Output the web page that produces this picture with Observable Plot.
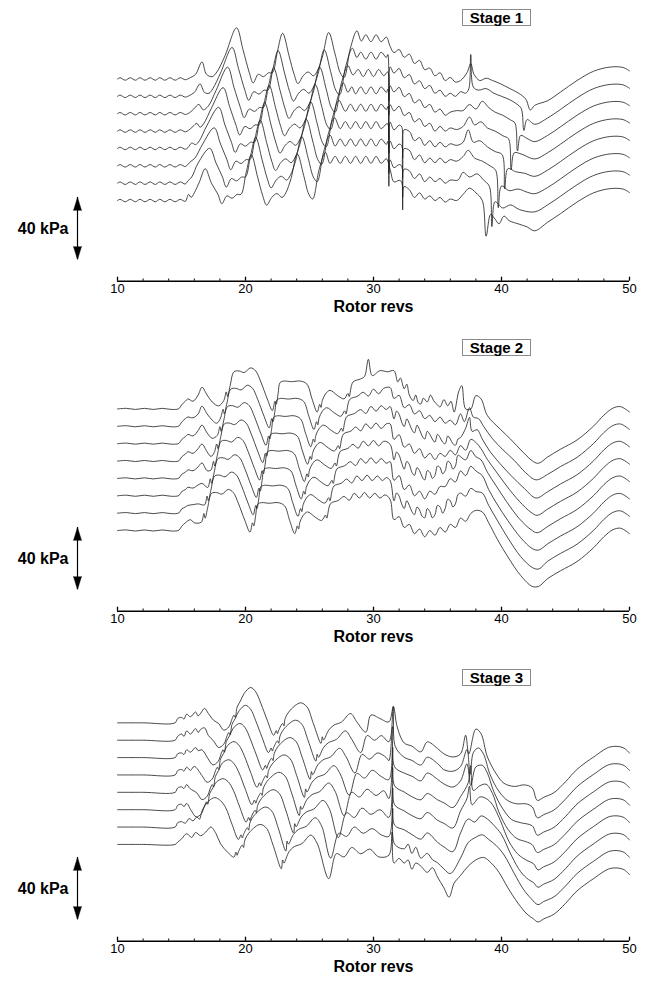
<!DOCTYPE html>
<html><head><meta charset="utf-8">
<script src="https://cdn.jsdelivr.net/npm/d3@7"></script>
<script src="https://cdn.jsdelivr.net/npm/@observablehq/plot@0.6"></script>
<style>
html,body{margin:0;padding:0;background:#fff;overflow:hidden;}
.panel{position:relative;width:652px;}
.stage{position:absolute;left:462px;top:9px;width:67px;height:15px;border:1px solid #8a8a8a;background:#fff;
 font:bold 15px "Liberation Sans",Arial,Helvetica,sans-serif;line-height:15px;text-align:center;color:#000;}
</style></head><body><div id="root"></div><script>
// ---- axis / labels ----
const revTicks = [10, 20, 30, 40, 50];
const minorTicks = [12,14,16,18,22,24,26,28,32,34,36,38,42,44,46,48];
const stageNames = ["Stage 1", "Stage 2", "Stage 3"];
const xLabel = "Rotor revs";
const scaleBarKpa = 40;
const sensorSpacingKpa = 11.2;        // vertical offset between the 8 sensor traces
const panelBaseKpa = [0, 0, 10.4];    // baseline of the lowest trace in each panel

// ---- Stage 1 (pressure deviation in kPa vs rotor revs) ----
const s1Start = [[10,0],[10.2,0.8],[10.6,-0.8],[11,0.8],[11.4,-0.8],[11.75,0.8],[12.15,-0.8],[12.55,0.8],[12.95,-0.8],[13.3,0.8],[13.7,-0.8],[14.1,0.8],[14.5,-0.8],[14.9,0.8],[15.3,-0.5]];
const s1End = [[43.6,-14],[44.6,-8.5],[45.9,-1],[47.2,5],[48.5,7.7],[49.5,7.4],[50,5.2]];
const s1t0 = [[15.6,0.5],[16.1,3],[16.6,11],[16.95,3],[17.4,1.5],[17.8,5],[18.4,15],[19.3,33],[19.8,19],[20.3,4],[20.6,-2.5],[21.0,3],[21.4,1.5],[21.8,4],[22.1,4],[22.5,18],[22.9,29.5],[23.4,15],[23.8,3],[24.1,-3],[24.5,2],[24.9,4.5],[25.3,2],[25.6,5],[26.0,14],[26.5,30],[27.0,16],[27.4,4],[27.7,1],[28.2,20],[28.7,31],[29.05,24.5],[29.4,28.5],[29.8,24],[30.2,28.5],[30.6,24],[31.0,27],[31.3,21],[31.6,17],[32.0,19],[32.4,14],[32.8,16],[33.2,10],[33.6,12],[34.0,6],[34.4,7],[34.8,2],[35.2,4],[35.6,-1],[36.0,1],[36.4,-2],[36.8,-1],[37.3,4],[37.6,10],[37.85,3],[38.3,-1],[38.8,0.5],[39.3,-1],[39.9,-3],[40.6,-6],[41.3,-9],[41.9,-13],[42.25,-20],[42.6,-17]];
const s1t1 = [[15.6,0.5],[16.0,2.5],[16.45,8],[16.8,2.5],[17.15,2],[17.45,5],[18.05,15],[18.95,31.5],[19.45,18],[19.95,4],[20.25,-2.5],[20.65,3],[21.05,1.5],[21.45,4],[21.75,4],[22.15,18],[22.55,29.5],[23.05,15],[23.45,3],[23.75,-3],[24.15,2],[24.55,4.5],[24.95,2],[25.25,5],[25.65,14],[26.15,30],[26.65,16],[27.05,4],[27.35,1],[27.85,20],[28.35,31],[28.7,25],[29.0,28.5],[29.4,24],[29.8,28.5],[30.2,24],[30.6,28.5],[31.0,25],[31.12,27],[31.2,-3],[31.3,19],[31.6,15],[32.0,18],[32.4,12],[32.8,14],[33.2,8],[33.6,10],[34.0,5],[34.4,7],[34.8,2],[35.2,4],[35.6,0],[36.0,2],[36.4,0],[36.8,3],[37.2,2],[37.45,5],[37.6,27],[37.8,6],[38.2,4],[38.8,5],[39.4,2],[40.0,0],[40.6,-2],[41.2,-5],[41.55,-8],[41.75,-22],[42.0,-15],[42.6,-18]];
const s1t2 = [[15.6,0.5],[15.95,3],[16.35,6],[16.7,2.5],[17.1,5],[17.7,15],[18.6,30],[19.1,17],[19.6,4],[19.9,-2.5],[20.3,3],[20.7,1.5],[21.1,4],[21.4,4],[21.8,18],[22.2,29.5],[22.7,15],[23.1,3],[23.4,-3],[23.8,2],[24.2,4.5],[24.6,2],[24.9,5],[25.3,14],[25.8,30],[26.3,16],[26.7,4],[27.0,1],[27.5,20],[28.0,31],[28.4,25],[28.8,28.5],[29.2,24],[29.6,28.5],[30.0,24],[30.4,28.5],[30.8,24.5],[31.12,27],[31.2,-1],[31.3,18],[31.6,14],[32.0,17],[32.4,11],[32.8,13],[33.2,7],[33.6,9],[34.0,4],[34.4,6],[34.8,1],[35.2,3],[35.6,-1],[36.0,1],[36.5,2],[37.0,2],[37.5,6],[38.0,3],[38.5,8],[39.0,4],[39.5,1],[40.1,-1],[40.7,-4],[41.05,-6],[41.25,-24],[41.5,-14],[42.0,-16],[42.6,-18]];
const s1t3 = [[15.55,0.5],[15.9,3],[16.2,5],[16.45,2.5],[16.75,5],[17.35,15],[18.25,28],[18.75,16],[19.25,4],[19.55,-2.5],[19.95,3],[20.35,1.5],[20.75,4],[21.05,4],[21.45,18],[21.85,29.5],[22.35,15],[22.75,3],[23.05,-3],[23.45,2],[23.85,4.5],[24.25,2],[24.55,5],[24.95,14],[25.45,30],[25.95,16],[26.35,4],[26.65,1],[27.15,20],[27.65,31],[28.0,25],[28.3,28.5],[28.6,24],[29.0,28.5],[29.4,24],[29.8,28.5],[30.2,24],[30.6,28.5],[31.0,25],[31.12,27],[31.2,-6],[31.3,17],[31.6,13],[32.0,16],[32.4,10],[32.8,12],[33.2,6],[33.6,8],[34.0,3],[34.4,5],[34.8,0],[35.2,3],[35.6,0],[36.0,2],[36.5,1],[37.0,3],[37.5,9],[37.9,4],[38.4,6],[38.9,2],[39.5,0],[40.1,-3],[40.55,-5],[40.75,-25],[41.0,-14],[41.6,-15],[42.6,-18]];
const s1t4 = [[15.5,0.5],[15.8,3.5],[16.1,2.5],[16.4,5],[17.0,15],[17.9,26.5],[18.4,15],[18.9,4],[19.2,-2.5],[19.6,3],[20.0,1.5],[20.4,4],[20.7,4],[21.1,18],[21.5,29.5],[22.0,15],[22.4,3],[22.7,-3],[23.1,2],[23.5,4.5],[23.9,2],[24.2,5],[24.6,14],[25.1,30],[25.6,16],[26.0,4],[26.3,1],[26.8,20],[27.3,31],[27.8,24],[28.2,28.5],[28.6,24],[29.0,28.5],[29.4,24],[29.8,28.5],[30.2,24],[30.6,28.5],[31.0,25],[31.12,27],[31.2,-3],[31.3,17],[31.6,12],[32.0,15],[32.2,14],[32.28,-6],[32.38,12],[32.8,11],[33.2,5],[33.6,7],[34.0,2],[34.4,5],[34.8,1],[35.2,4],[35.6,1],[36.0,3],[36.5,2],[37.0,4],[37.4,12],[37.8,4],[38.3,5],[38.9,1],[39.5,-2],[40.05,-4],[40.25,-26],[40.5,-13],[41.1,-15],[41.8,-16],[42.6,-18]];
const s1t5 = [[15.5,1],[15.75,3],[16.05,5],[16.65,14],[17.55,24.5],[18.05,14],[18.55,4],[18.85,-2.5],[19.25,3],[19.65,1.5],[20.05,4],[20.35,4],[20.75,18],[21.15,29.5],[21.65,15],[22.05,3],[22.35,-3],[22.75,2],[23.15,4.5],[23.55,2],[23.85,5],[24.25,14],[24.75,30],[25.25,16],[25.65,4],[25.95,1],[26.45,20],[26.95,31],[27.4,24],[27.8,28.5],[28.2,24],[28.6,28.5],[29.0,24],[29.4,28.5],[29.8,24],[30.2,28.5],[30.6,24],[31.0,27],[31.12,27],[31.2,-5],[31.3,16],[31.6,11],[32.0,14],[32.2,13],[32.28,-8],[32.38,11],[32.8,10],[33.2,4],[33.6,7],[34.0,2],[34.4,5],[34.8,2],[35.2,5],[35.6,2],[36.0,4],[36.5,3],[37.0,6],[37.4,10],[37.9,5],[38.5,3],[39.1,0],[39.55,-3],[39.75,-27],[40.0,-13],[40.6,-16],[41.3,-15],[42.0,-17],[42.6,-18]];
const s1t6 = [[15.5,1.5],[15.8,4],[16.3,13],[17.2,22.5],[17.7,13],[18.2,4],[18.5,-2.5],[18.9,3],[19.3,1.5],[19.7,4],[20.0,4],[20.4,18],[20.8,29.5],[21.3,15],[21.7,3],[22.0,-3],[22.4,2],[22.8,4.5],[23.2,2],[23.5,5],[23.9,14],[24.4,30],[24.9,16],[25.3,4],[25.6,1],[26.1,20],[26.6,31],[27.0,24],[27.4,28.5],[27.8,24],[28.2,28.5],[28.6,24],[29.0,28.5],[29.4,24],[29.8,28.5],[30.2,24],[30.6,28.5],[31.0,25],[31.12,27],[31.2,-2],[31.3,15],[31.6,10],[32.0,12],[32.2,11],[32.28,-9],[32.38,9],[32.8,8],[33.2,3],[33.6,6],[34.0,1],[34.4,4],[34.8,1],[35.2,3],[35.6,0],[36.0,2],[36.6,2],[37.0,7],[37.5,4],[38.1,6],[38.6,2],[39.05,-2],[39.25,-28],[39.5,-12],[40.1,-16],[40.7,-14],[41.4,-17],[42.6,-18.5]];
const s1t7 = [[15.55,4],[15.75,2],[16.0,5],[16.4,12],[16.85,20.5],[17.35,11],[17.85,4],[18.15,-2],[18.55,3],[18.95,1.5],[19.35,4],[19.65,4],[20.05,18],[20.45,29.5],[20.95,15],[21.35,3],[21.65,-3],[22.05,2],[22.45,4.5],[22.85,2],[23.15,5],[23.55,14],[24.05,30],[24.55,16],[24.95,4],[25.25,1],[25.75,20],[26.25,31],[26.6,24],[27.0,28.5],[27.4,24],[27.8,28.5],[28.2,24],[28.6,28.5],[29.0,24],[29.4,28.5],[29.8,24],[30.2,28.5],[30.6,24],[31.0,27],[31.3,20],[31.6,12],[32.0,13],[32.2,12],[32.28,-6],[32.38,9],[32.8,7],[33.2,2],[33.6,5],[34.0,1],[34.4,3],[34.8,0],[35.2,2],[35.6,-1],[36.0,1],[36.5,0],[37.0,4],[37.5,8],[38.0,5],[38.5,0],[38.8,-23],[39.15,-9],[39.5,-12],[39.8,-15],[40.2,-10],[40.6,-13],[41.3,-15],[42.0,-17],[42.6,-19.5]];

// ---- Stage 2 ----
const s2Start = [[10,0],[10.7,0.4],[11.4,-0.3],[12.1,0.4],[12.8,-0.3],[13.5,0.4],[14.2,-0.3],[14.8,0.2]];
const s2End = [[43.6,-31],[44.6,-26],[45.9,-20],[47.2,-11],[48.0,-4],[48.7,0.5],[49.3,1.5],[50,-2]];
const s2t0 = [[15.0,2.6],[15.3,5],[15.5,6.5],[15.9,5],[16.3,9],[16.6,14],[17.0,9],[17.4,4.5],[17.9,2],[18.3,5.4],[18.5,11],[18.6,8],[18.8,15],[19.1,24],[19.5,24.5],[19.9,23.5],[20.4,26.5],[20.8,24.5],[21.2,17.4],[21.7,6.5],[22.1,-1],[22.3,5],[22.4,3],[22.55,10],[22.7,17],[23.0,18],[23.6,17.6],[24.3,18],[24.8,16],[25.2,6.5],[25.6,-2],[25.8,3],[25.9,1],[26.0,5.4],[26.25,9.7],[26.6,12],[27.2,8.6],[27.7,6.5],[28.0,10],[28.1,8],[28.4,17.4],[29.0,19.4],[29.3,21],[29.6,32],[29.9,21.5],[30.5,24.7],[31.1,24],[31.6,24.7],[31.9,17.4],[32.1,20],[32.4,13],[32.6,16],[32.8,9],[33.1,5.4],[33.3,9],[33.5,4],[33.7,3.2],[33.9,7],[34.2,4.5],[34.45,9],[34.7,5.4],[34.95,3],[35.2,1.3],[35.5,6],[35.8,2],[36.05,5],[36.3,-2],[36.65,11],[36.9,15],[37.2,0],[37.6,0],[38.0,8.6],[38.4,6.5],[38.9,-4.3],[39.9,-13],[40.7,-19.4],[41.7,-28],[42.5,-34],[42.9,-35]];
const s2t1 = [[15.0,2.6],[15.3,5],[15.5,6],[15.9,5.5],[16.3,8],[16.6,13],[17.0,8],[17.4,4],[17.75,2],[18.05,5.4],[18.25,11],[18.35,8],[18.55,15],[18.85,24],[19.25,24.5],[19.65,23.5],[20.15,26.5],[20.55,24.5],[20.95,17.4],[21.45,6.5],[21.85,-1],[22.05,5],[22.15,3],[22.3,10],[22.45,17],[22.75,18],[23.35,17.6],[24.05,18],[24.55,16],[24.95,6.5],[25.35,-2],[25.55,3],[25.65,1],[25.75,5.4],[26.0,9.7],[26.35,12],[26.95,8.6],[27.45,6.5],[27.75,10],[27.85,8],[28.15,17.4],[28.75,19.4],[29.2,22],[29.6,19.5],[30.0,24],[30.4,21],[30.8,24.5],[31.3,25],[31.6,18],[32.0,20],[32.4,12],[32.8,14],[33.2,8],[33.6,10],[34.0,5],[34.4,7],[34.8,3],[35.2,6],[35.6,2],[36.0,4],[36.4,1],[36.8,8],[37.1,3],[37.5,12],[37.8,6],[38.2,5],[38.6,0],[39.3,-8],[40.1,-15],[41.0,-22],[41.9,-30],[42.7,-34.5]];
const s2t2 = [[15.0,2.6],[15.3,4.5],[15.5,6],[15.9,5],[16.3,8.5],[16.6,12],[17.0,7],[17.4,3.5],[17.8,5.4],[18.0,11],[18.1,8],[18.3,15],[18.6,24],[19.0,24.5],[19.4,23.5],[19.9,26.5],[20.3,24.5],[20.7,17.4],[21.2,6.5],[21.6,-1],[21.8,5],[21.9,3],[22.05,10],[22.2,17],[22.5,18],[23.1,17.6],[23.8,18],[24.3,16],[24.7,6.5],[25.1,-2],[25.3,3],[25.4,1],[25.5,5.4],[25.75,9.7],[26.1,12],[26.7,8.6],[27.2,6.5],[27.5,10],[27.6,8],[27.9,17.4],[28.5,19.4],[29.0,22],[29.4,19.5],[29.8,24],[30.2,21],[30.6,24.5],[31.0,22],[31.3,24],[31.6,16],[31.8,21],[32.0,19],[32.2,14],[32.4,11],[32.6,16],[32.8,13],[33.0,9],[33.2,7],[33.4,12],[33.6,9],[33.8,5],[34.0,3],[34.2,8],[34.4,6],[34.6,3],[34.8,1],[35.0,6],[35.2,4],[35.4,1],[35.6,0],[35.8,5],[36.0,3],[36.2,0],[36.4,-1],[36.6,3],[36.8,4],[37.2,10],[37.5,17],[37.7,8],[38.1,9],[38.5,3],[39.1,-5],[39.9,-13],[40.8,-21],[41.8,-29],[42.7,-35]];
const s2t3 = [[15.0,2.6],[15.3,4.5],[15.5,6],[15.9,5],[16.3,8],[16.6,11],[17.0,6],[17.3,3],[17.55,5.4],[17.75,11],[17.85,8],[18.05,15],[18.35,24],[18.75,24.5],[19.15,23.5],[19.65,26.5],[20.05,24.5],[20.45,17.4],[20.95,6.5],[21.35,-1],[21.55,5],[21.65,3],[21.8,10],[21.95,17],[22.25,18],[22.85,17.6],[23.55,18],[24.05,16],[24.45,6.5],[24.85,-2],[25.05,3],[25.15,1],[25.25,5.4],[25.5,9.7],[25.85,12],[26.45,8.6],[26.95,6.5],[27.25,10],[27.35,8],[27.65,17.4],[28.25,19.4],[28.6,22],[29.0,19.5],[29.4,24],[29.8,21],[30.2,24.5],[30.6,21],[31.0,24],[31.3,24],[31.6,14],[32.0,17],[32.4,9],[32.8,11],[33.2,5],[33.6,8],[34.0,2],[34.4,5],[34.8,1],[35.2,5],[35.6,3],[36.0,7],[36.4,4],[36.8,10],[37.2,7],[37.6,14],[38.0,12],[38.4,8],[38.9,1],[39.6,-7],[40.4,-16],[41.4,-26],[42.3,-33],[42.8,-35]];
const s2t4 = [[15.0,2.6],[15.3,4],[15.5,5.5],[15.9,5],[16.3,7.5],[16.6,10],[17.0,5],[17.3,5.4],[17.5,11],[17.6,8],[17.8,15],[18.1,24],[18.5,24.5],[18.9,23.5],[19.4,26.5],[19.8,24.5],[20.2,17.4],[20.7,6.5],[21.1,-1],[21.3,5],[21.4,3],[21.55,10],[21.7,17],[22.0,18],[22.6,17.6],[23.3,18],[23.8,16],[24.2,6.5],[24.6,-2],[24.8,3],[24.9,1],[25.0,5.4],[25.25,9.7],[25.6,12],[26.2,8.6],[26.7,6.5],[27.0,10],[27.1,8],[27.4,17.4],[28.0,19.4],[28.4,22],[28.8,19.5],[29.2,24],[29.6,21],[30.0,24.5],[30.4,21],[30.8,24],[31.3,22],[31.6,12],[31.8,17],[32.0,15],[32.2,10],[32.4,6],[32.6,11],[32.8,9],[33.0,4],[33.2,2],[33.4,7],[33.6,5],[33.8,1],[34.0,-1],[34.2,5],[34.4,4],[34.6,0],[34.8,2],[35.0,8],[35.2,7],[35.4,3],[35.6,5],[35.8,11],[36.0,10],[36.2,6],[36.4,8],[36.6,15],[36.8,14],[37.2,12],[37.6,18],[38.0,14],[38.4,12],[38.9,4],[39.6,-5],[40.4,-15],[41.4,-26],[42.3,-33],[42.8,-35]];
const s2t5 = [[15.0,2.6],[15.3,4],[15.5,5.5],[15.9,5],[16.3,7],[16.6,8],[17.05,5.4],[17.25,11],[17.35,8],[17.55,15],[17.85,24],[18.25,24.5],[18.65,23.5],[19.15,26.5],[19.55,24.5],[19.95,17.4],[20.45,6.5],[20.85,-1],[21.05,5],[21.15,3],[21.3,10],[21.45,17],[21.75,18],[22.35,17.6],[23.05,18],[23.55,16],[23.95,6.5],[24.35,-2],[24.55,3],[24.65,1],[24.75,5.4],[25.0,9.7],[25.35,12],[25.95,8.6],[26.45,6.5],[26.75,10],[26.85,8],[27.15,17.4],[27.75,19.4],[28.2,22],[28.6,19.5],[29.0,24],[29.4,21],[29.8,24.5],[30.2,21],[30.6,24],[31.0,21],[31.3,22],[31.6,10],[32.0,13],[32.4,4],[32.8,7],[33.2,0],[33.6,3],[34.0,-2],[34.4,3],[34.8,1],[35.2,6],[35.6,6],[36.0,11],[36.4,9],[36.8,16],[37.2,13],[37.6,19],[38.0,16],[38.5,13],[39.0,4],[39.7,-6],[40.5,-16],[41.5,-27],[42.4,-34],[42.9,-35]];
const s2t6 = [[15.0,2.6],[15.3,4],[15.5,5],[15.9,5.5],[16.3,6],[16.8,5.4],[17.0,11],[17.1,8],[17.3,15],[17.6,24],[18.0,24.5],[18.4,23.5],[18.9,26.5],[19.3,24.5],[19.7,17.4],[20.2,6.5],[20.6,-1],[20.8,5],[20.9,3],[21.05,10],[21.2,17],[21.5,18],[22.1,17.6],[22.8,18],[23.3,16],[23.7,6.5],[24.1,-2],[24.3,3],[24.4,1],[24.5,5.4],[24.75,9.7],[25.1,12],[25.7,8.6],[26.2,6.5],[26.5,10],[26.6,8],[26.9,17.4],[27.5,19.4],[27.9,22],[28.3,19.5],[28.7,24],[29.1,21],[29.5,24.5],[29.9,21],[30.3,24],[30.7,21],[31.0,23],[31.3,21],[31.6,8],[31.8,13],[32.0,11],[32.2,6],[32.4,3],[32.6,8],[32.8,5],[33.0,1],[33.2,-1],[33.4,4],[33.6,2],[33.8,-2],[34.0,-3],[34.2,3],[34.4,1],[34.6,-3],[34.8,-1],[35.0,5],[35.2,4],[35.4,0],[35.6,3],[35.8,9],[36.0,8],[36.2,4],[36.4,6],[36.6,12],[36.8,13],[37.2,11],[37.6,16],[38.0,14],[38.5,13],[39.0,5],[39.7,-5],[40.5,-16],[41.5,-28],[42.4,-35],[42.9,-36]];
const s2t7 = [[15.0,2.6],[15.3,5],[15.7,7],[16.0,5],[16.55,5.4],[16.75,11],[16.85,8],[17.05,15],[17.35,24],[17.75,24.5],[18.15,23.5],[18.65,26.5],[19.05,24.5],[19.45,17.4],[19.95,6.5],[20.35,-1],[20.55,5],[20.65,3],[20.8,10],[20.95,17],[21.25,18],[21.85,17.6],[22.55,18],[23.05,16],[23.45,6.5],[23.85,-2],[24.05,3],[24.15,1],[24.25,5.4],[24.5,9.7],[24.85,12],[25.45,8.6],[25.95,6.5],[26.25,10],[26.35,8],[26.65,17.4],[27.25,19.4],[27.7,22],[28.1,19.5],[28.5,24],[28.9,21],[29.3,24.5],[29.7,21],[30.1,24],[30.5,21],[30.9,23],[31.3,20],[31.6,7],[32.0,9],[32.4,2],[32.8,4],[33.2,-2],[33.6,1],[34.0,-4],[34.4,0],[34.8,-3],[35.2,2],[35.6,-1],[36.0,4],[36.4,2],[36.8,8],[37.2,6],[37.6,11],[38.0,13],[38.5,12],[39.0,5],[39.7,-6],[40.5,-17],[41.5,-29],[42.4,-36],[42.9,-36]];

// ---- Stage 3 ----
const s3Start = [[10,0],[12,0],[14.5,0]];
const s3End = [[43.3,-48],[44.1,-45],[45.0,-38],[45.9,-30],[47.2,-22],[48.5,-15.5],[49.5,-16],[50,-19.5]];
const s3t0 = [[14.7,2.8],[15.0,3.5],[15.2,2.5],[15.4,5.6],[15.7,3.9],[16.1,7],[16.3,4.5],[16.5,6.2],[16.8,9.3],[17.1,6],[17.5,1.7],[17.9,-0.4],[18.3,-4.7],[18.7,-2.6],[18.96,2.8],[19.1,5],[19.2,3.5],[19.35,10.3],[19.6,14],[19.9,19],[20.4,22.8],[20.8,20],[21.2,12.5],[21.7,1.7],[22.2,-8],[22.4,-5],[22.5,-7],[22.6,-4.7],[22.9,-0.4],[23.0,-2],[23.1,2.8],[23.5,8.2],[24.3,12.9],[24.8,10.3],[25.3,-0.4],[25.9,-13.3],[26.0,-9],[26.1,-11],[26.5,-4.7],[26.9,-1.5],[27.5,0.5],[28.2,6],[28.7,0.6],[29.4,-6],[29.8,5],[30.5,2.8],[31.2,0.6],[31.55,10.3],[31.85,-2.6],[32.4,-13],[33.0,-15],[33.7,-18.7],[34.2,-12.3],[35.0,-16.5],[35.5,-20],[36.2,-22],[36.8,-20],[37.2,-8],[37.45,-20],[38.0,-4],[38.4,-7],[38.9,-22],[39.6,-33],[40.2,-39],[41.0,-41],[41.8,-40],[42.4,-42],[42.8,-50]];
const s3t1 = [[14.7,2.5],[15.0,4],[15.2,2.5],[15.4,6],[15.7,4],[16.1,7.5],[16.3,5],[16.5,7],[16.8,8],[17.1,3],[17.5,-0.4],[17.9,-4.7],[18.3,-2.6],[18.56,2.8],[18.7,5],[18.8,3.5],[18.95,10.3],[19.2,14],[19.5,19],[20.0,22.5],[20.4,20],[20.8,12.5],[21.3,1.7],[21.8,-8],[22.0,-5],[22.1,-7],[22.2,-4.7],[22.5,-0.4],[22.6,-2],[22.7,2.8],[23.1,8.2],[23.9,12.9],[24.4,10.3],[24.9,-0.4],[25.5,-13.5],[25.6,-9],[25.7,-11],[26.1,-4.7],[26.5,-1.5],[27.1,0.5],[27.8,6],[28.3,0.6],[29.0,-8],[29.5,3],[30.1,0],[30.6,3],[31.2,-1],[31.55,22],[31.7,-4],[32.4,-11],[33.0,-13],[33.7,-16],[34.2,-11],[35.0,-15],[35.5,-19],[36.2,-20],[36.8,-17],[37.3,-6],[37.55,-22],[37.8,-8],[38.2,-5],[38.6,-9],[39.1,-22],[39.8,-33],[40.5,-39],[41.2,-41],[41.9,-41],[42.4,-43],[42.8,-50]];
const s3t2 = [[14.7,2.5],[15.0,3],[15.2,2],[15.4,5],[15.7,3.5],[16.1,6.5],[16.3,4.5],[16.6,5],[17.05,-0.4],[17.45,-4.7],[17.85,-2.6],[18.11,2.8],[18.25,5],[18.35,3.5],[18.5,10.3],[18.75,14],[19.05,19],[19.55,22],[19.95,19.5],[20.35,12.5],[20.85,1.7],[21.35,-8],[21.55,-5],[21.65,-7],[21.75,-4.7],[22.05,-0.4],[22.15,-2],[22.25,2.8],[22.65,8.2],[23.45,12.9],[23.95,10.3],[24.45,-0.4],[25.05,-14],[25.15,-9],[25.25,-11],[25.65,-4.7],[26.05,-1.5],[26.65,0.5],[27.35,6],[27.85,0.6],[28.55,-10],[29.1,2],[29.7,-1],[30.3,3],[31.0,0],[31.2,-2],[31.5,20],[31.65,-6],[32.4,-10],[33.0,-12],[33.7,-15],[34.2,-10],[35.0,-14],[35.5,-17],[36.2,-19],[36.8,-15],[37.3,-4],[37.6,-18],[38.0,-6],[38.5,-5],[38.9,-10],[39.4,-22],[40.1,-33],[40.8,-40],[41.5,-42],[42.4,-44],[42.8,-50]];
const s3t3 = [[14.7,2.8],[15.0,3.5],[15.2,2.5],[15.4,5],[15.7,3],[16.0,5.5],[16.6,-0.4],[17.0,-4.7],[17.4,-2.6],[17.66,2.8],[17.8,5],[17.9,3.5],[18.05,10.3],[18.3,14],[18.6,19],[19.1,21.5],[19.5,19],[19.9,12.5],[20.4,1.7],[20.9,-8],[21.1,-5],[21.2,-7],[21.3,-4.7],[21.6,-0.4],[21.7,-2],[21.8,2.8],[22.2,8.2],[23.0,12.9],[23.5,10.3],[24.0,-0.4],[24.6,-14.5],[24.7,-9],[24.8,-11],[25.2,-4.7],[25.6,-1.5],[26.2,0.5],[26.9,6],[27.4,0.6],[28.1,-13],[28.7,1],[29.3,-2],[29.9,3],[30.6,-1],[31.2,-3],[31.5,18],[31.65,-7],[32.4,-11],[33.0,-14],[33.7,-16],[34.2,-12],[35.0,-16],[35.5,-18],[36.2,-21],[36.8,-14],[37.4,-5],[37.6,6],[37.8,-10],[38.3,-7],[38.8,-6],[39.3,-12],[39.8,-24],[40.5,-35],[41.2,-41],[41.9,-43],[42.4,-45],[42.8,-50]];
const s3t4 = [[14.7,2.8],[15.0,3.5],[15.2,2.5],[15.4,5],[15.65,2.5],[16.2,-0.4],[16.6,-4.7],[17.0,-2.6],[17.26,2.8],[17.4,5],[17.5,3.5],[17.65,10.3],[17.9,14],[18.2,19],[18.7,21],[19.1,18.5],[19.5,12.5],[20.0,1.7],[20.5,-8],[20.7,-5],[20.8,-7],[20.9,-4.7],[21.2,-0.4],[21.3,-2],[21.4,2.8],[21.8,8.2],[22.6,12.9],[23.1,10.3],[23.6,-0.4],[24.2,-15],[24.3,-9],[24.4,-11],[24.8,-4.7],[25.2,-1.5],[25.8,0.5],[26.5,6],[27.0,0.6],[27.7,-15],[28.3,0],[28.9,-3],[29.5,2],[30.2,-2],[30.8,1],[31.2,-4],[31.5,16],[31.65,-8],[32.4,-12],[33.0,-15],[33.7,-17],[34.2,-13],[35.0,-18],[35.5,-20],[36.2,-23],[36.8,-12],[37.3,-4],[37.5,4],[37.7,-8],[38.3,-3],[38.8,-4],[39.3,-8],[39.9,-18],[40.6,-32],[41.3,-40],[42.0,-44],[42.5,-46],[42.85,-50]];
const s3t5 = [[14.7,2.8],[15.0,3.5],[15.2,2],[15.4,4],[15.75,-0.4],[16.15,-4.7],[16.55,-2.6],[16.81,2.8],[16.95,5],[17.05,3.5],[17.2,10.3],[17.45,14],[17.75,18],[18.25,20],[18.65,18],[19.05,12.5],[19.55,1.7],[20.05,-8],[20.25,-5],[20.35,-7],[20.45,-4.7],[20.75,-0.4],[20.85,-2],[20.95,2.8],[21.35,8.2],[22.15,12.9],[22.65,10.3],[23.15,-0.4],[23.75,-15],[23.85,-9],[23.95,-11],[24.35,-4.7],[24.75,-1.5],[25.35,0.5],[26.05,6],[26.55,0.6],[27.25,-18],[27.9,-2],[28.5,-5],[29.1,1],[29.8,-3],[30.5,0],[31.2,-5],[31.5,14],[31.65,-10],[32.4,-13],[33.0,-16],[33.7,-19],[34.2,-15],[35.0,-21],[35.5,-24],[36.2,-27],[36.8,-15],[37.4,-6],[37.9,-8],[38.4,-4],[38.9,-6],[39.4,-10],[40.0,-16],[40.8,-30],[41.5,-40],[42.1,-45],[42.5,-47],[42.85,-50]];
const s3t6 = [[14.7,2.8],[15.0,3.5],[15.3,2.5],[15.6,5.5],[15.9,4],[16.2,6.5],[16.4,5],[16.6,10.3],[16.85,14],[17.15,17],[17.6,19],[18.05,17],[18.45,12.5],[18.95,1.7],[19.45,-8],[19.65,-5],[19.75,-7],[19.85,-4.7],[20.15,-0.4],[20.25,-2],[20.35,2.8],[20.75,8.2],[21.55,12.9],[22.05,10.3],[22.55,-0.4],[23.15,-15.5],[23.25,-9],[23.35,-11],[23.75,-4.7],[24.15,-1.5],[24.75,0.5],[25.45,6],[25.95,0.6],[26.65,-20],[27.3,-4],[27.9,-6],[28.5,0],[29.2,-4],[29.9,-1],[30.6,-5],[31.2,-6],[31.5,12],[31.65,-11],[32.4,-14],[32.7,-11],[33.0,-17],[33.3,-13],[33.7,-20],[34.2,-17],[34.6,-21],[35.0,-23],[35.5,-27],[36.0,-30],[36.8,-20],[37.4,-10],[37.9,-7],[38.5,-5],[39.0,-8],[39.6,-12],[40.2,-18],[41.0,-30],[41.7,-40],[42.3,-46],[42.85,-50]];
const s3t7 = [[14.7,1.5],[15.0,3.5],[15.4,6.9],[15.8,4.5],[16.1,7.7],[16.5,5.6],[16.9,8],[17.3,11.2],[17.7,6.9],[18.05,0.4],[18.6,-5],[19.1,-8.2],[19.25,-5],[19.35,-7],[19.45,-4.7],[19.75,-0.4],[19.85,-2],[19.95,2.8],[20.35,8.2],[21.15,12.9],[21.65,10.3],[22.15,-0.4],[22.8,-15.7],[22.9,-10],[23.0,-12],[23.4,-4.7],[23.8,-1.5],[24.4,0.5],[25.1,6],[25.6,0.6],[26.5,-22],[27.1,-6],[27.7,-8],[28.3,-2],[29.0,-6],[29.7,-3],[30.4,-8],[31.2,-7],[31.45,8],[31.6,-12],[32.0,-9],[32.4,-12],[32.7,-10],[33.0,-16],[33.3,-12],[33.7,-14],[34.2,-18],[34.6,-15],[35.0,-21],[35.5,-28],[35.9,-34],[36.3,-25],[36.8,-20],[37.4,-14],[38.0,-10],[38.6,-8.4],[39.2,-12],[39.8,-18],[40.5,-28],[41.3,-38],[42.0,-45],[42.5,-48],[42.85,-50]];

const panels = [
  {stage: stageNames[0], base: panelBaseKpa[0], height: 330,
   traces: [s1t0,s1t1,s1t2,s1t3,s1t4,s1t5,s1t6,s1t7].map(t => [...s1Start, ...t, ...s1End])},
  {stage: stageNames[1], base: panelBaseKpa[1], height: 330,
   traces: [s2t0,s2t1,s2t2,s2t3,s2t4,s2t5,s2t6,s2t7].map(t => [...s2Start, ...t, ...s2End])},
  {stage: stageNames[2], base: panelBaseKpa[2], height: 323,
   traces: [s3t0,s3t1,s3t2,s3t3,s3t4,s3t5,s3t6,s3t7].map(t => [...s3Start, ...t, ...s3End])}
];

const axisY = 280.7;          // pixel row of the x axis inside each panel
const yDomain = [-52, 129];
const barTop = 2, barBottom = barTop - scaleBarKpa;
const root = document.getElementById("root");

panels.forEach(p => {
  const rows = [];
  const n = p.traces.length;
  p.traces.forEach((pts, i) => {
    const off = p.base + sensorSpacingKpa * (n - 1 - i);
    pts.forEach(([rev, kpa]) => rows.push({sensor: i, rev, kPa: kpa + off}));
  });
  const chart = Plot.plot({
    width: 652, height: p.height,
    marginLeft: 117, marginRight: 23, marginTop: 0, marginBottom: p.height - axisY,
    style: "font-family:'Liberation Sans',Arial,Helvetica,sans-serif;font-size:13px;background:#fff;color:#000;overflow:visible;",
    x: {domain: [10, 50], ticks: revTicks, tickSize: 0, tickPadding: 3, tickFormat: d => String(d), label: null},
    y: {domain: yDomain, axis: null},
    marks: [
      Plot.line(rows, {x: "rev", y: "kPa", z: "sensor", curve: "catmull-rom", stroke: "#1c1c1c", strokeWidth: 0.8}),
      Plot.ruleY([yDomain[0]], {stroke: "#000", strokeWidth: 1.4}),
      Plot.ruleX(revTicks, {insetTop: axisY - 4, stroke: "#000", strokeWidth: 1.3}),
      Plot.ruleX(minorTicks, {insetTop: axisY - 2.2, stroke: "#000", strokeWidth: 1}),
      Plot.text([xLabel], {frameAnchor: "bottom", dy: 31, fontSize: 16, fontWeight: "bold"}),
      Plot.ruleX([revTicks[0]], {y1: () => barTop, y2: () => barBottom, dx: -40, stroke: "#000", strokeWidth: 1.2}),
      Plot.vector([barTop], {x: () => revTicks[0], y: d => d, dx: -40, length: 13, r: 4, shape: "spike", anchor: "end", rotate: 0, fill: "#000", stroke: "#000", strokeWidth: 0.5}),
      Plot.vector([barBottom], {x: () => revTicks[0], y: d => d, dx: -40, length: 13, r: 4, shape: "spike", anchor: "end", rotate: 180, fill: "#000", stroke: "#000", strokeWidth: 0.5}),
      Plot.text([`${scaleBarKpa} kPa`], {x: () => revTicks[0], y: () => (barTop + barBottom) / 2, dx: -49, textAnchor: "end", fontSize: 16, fontWeight: "bold"})
    ]
  });
  const wrap = document.createElement("div");
  wrap.className = "panel";
  wrap.style.height = p.height + "px";
  wrap.appendChild(chart);
  const box = document.createElement("div");
  box.className = "stage";
  box.textContent = p.stage;
  wrap.appendChild(box);
  root.appendChild(wrap);
});
</script></body></html>
